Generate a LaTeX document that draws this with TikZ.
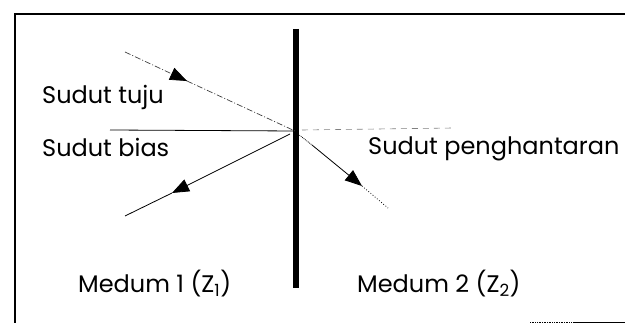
\documentclass[tikz,border=0pt]{standalone}
\usepackage{fontspec}
\setmainfont{Poppins}
\usetikzlibrary{arrows.meta,calc}
\begin{document}
\begin{tikzpicture}[x=1pt,y=-1pt,
  lbl/.style={anchor=base west,inner sep=0pt,font=\fontsize{24}{26}\selectfont},
  ray/.style={line width=0.8pt},
  faint/.style={line width=0.7pt,black!75,dash pattern=on 6pt off 2pt on 1pt off 2pt},
  tip/.style={-{Triangle[length=17pt,width=13pt]}},
  frame/.style={line width=1.6pt}]
\useasboundingbox (0,0) rectangle (625,323);
% frame
\coordinate (fTL) at (15,14);
\coordinate (fTR) at (625,14);
\coordinate (fBL) at (15,323);
\coordinate (bA) at (530,322);
\coordinate (bB) at (575,322);
\coordinate (bC) at (625,322);
\draw[frame] (fBL) -- (fTL) -- (fTR);
\draw[line width=0.7pt,densely dotted] (bA) -- (bB);
\draw[line width=0.9pt] (bB) -- (bC);
% boundary
\coordinate (wT) at (296,29);
\coordinate (wB) at (296,288);
\draw[line width=6pt] (wT) -- (wB);
% normal
\coordinate (nL) at (110,130);
\coordinate (O) at (295,131);
\coordinate (nR1) at (302,130);
\coordinate (nR) at (453,128);
\draw[line width=0.8pt] (nL) -- (O);
\draw[line width=0.6pt,dash pattern=on 6pt off 5pt,gray] (nR1) -- (nR);
% incident
\coordinate (iA) at (125,52);
\coordinate (iT) at (187,81);
\draw[faint] (iA) -- (iT);
\draw[tip,line width=0.7pt] ($(iT)!0.1!(iA)$) -- (iT);
\draw[faint] (iT) -- (O);
% reflected
\coordinate (rO) at (290,134);
\coordinate (rT) at (172,193);
\coordinate (rB) at (125,216);
\draw[ray,tip] (rO) -- (rT);
\draw[ray] (rT) -- (rB);
% transmitted
\coordinate (tO) at (298,134);
\coordinate (tM) at (312,145);
\coordinate (tT) at (362,186);
\coordinate (tB) at (388,208);
\draw[ray,densely dotted] (tO) -- (tM);
\draw[ray,tip] (tM) -- (tT);
\draw[ray,dotted] (tT) -- (tB);
% labels
\node[lbl] (tuju) at (42,104) {Sudut tuju};
\node[lbl] (bias) at (42,157) {Sudut bias};
\node[lbl] (peng) at (368,155) {Sudut penghantaran};
\node[lbl] (m1) at (78,293) {Medum 1 (Z\textsubscript{1})};
\node[lbl] (m2) at (357,293) {Medum 2 (Z\textsubscript{2})};
\end{tikzpicture}
\end{document}
